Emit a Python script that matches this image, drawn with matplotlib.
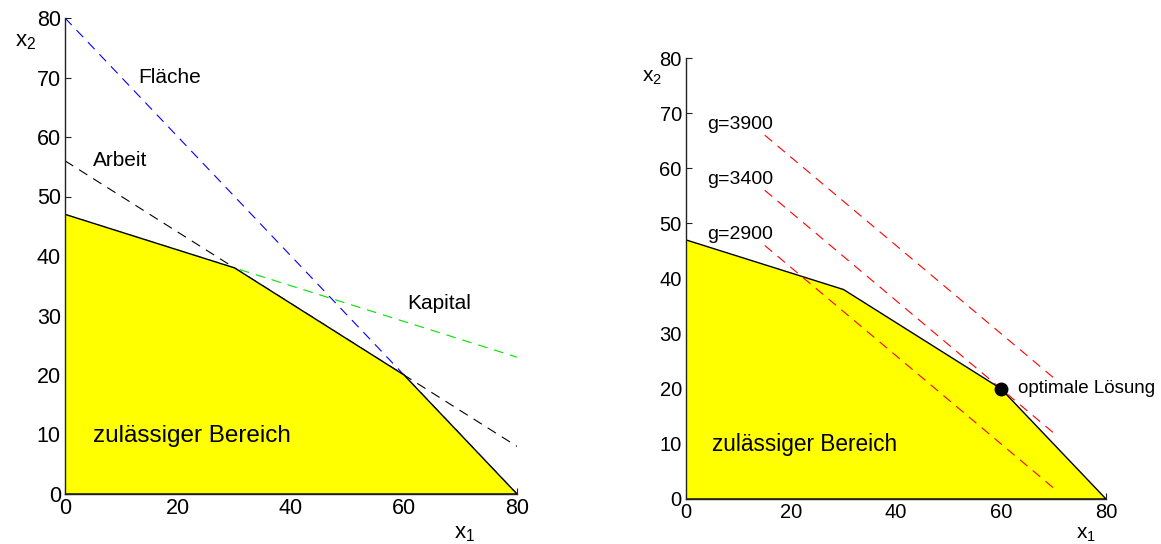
import numpy as np
import matplotlib
matplotlib.use("Agg")
import matplotlib.pyplot as plt

plt.rcParams['font.family'] = ['Liberation Sans', 'DejaVu Sans']
plt.rcParams['lines.scale_dashes'] = False

# Feasible region vertices
region_x = [0, 0, 30, 60, 80]
region_y = [0, 47, 38, 20, 0]

# Constraint lines (x1 range and x2 endpoints)
flaeche_x = [0, 80]
flaeche_y = [80, 0]
arbeit_x = [0, 80]
arbeit_y = [56, 8]
kapital_x = [0, 80]
kapital_y = [47, 23]

# Objective iso-lines g = 40*x1 + 50*x2
g_levels = [2900, 3400, 3900]
g_coef = (40, 50)
g_x = [15, 70]

# Optimal solution
opt_x, opt_y = 60, 20

ticks_x = [0, 20, 40, 60, 80]
ticks_y = [0, 10, 20, 30, 40, 50, 60, 70, 80]

fig = plt.figure(figsize=(11.61, 5.44), dpi=100)
ax1 = fig.add_axes([65 / 1161, 50 / 544, 452 / 1161, 476 / 544])
ax2 = fig.add_axes([686 / 1161, 45 / 544, 420 / 1161, 441 / 544])

dash = (7, 5)


def style_axes(ax, fs):
    ax.set_xlim(0, 80)
    ax.set_ylim(0, 80)
    ax.set_xticks(ticks_x)
    ax.set_yticks(ticks_y)
    for s in ('top', 'right'):
        ax.spines[s].set_visible(False)
    for s in ('left', 'bottom'):
        ax.spines[s].set_linewidth(1.0)
        ax.spines[s].set_color('#222222')
        ax.spines[s].set_zorder(5)
    ax.tick_params(direction='in', length=4, width=0.8, labelsize=fs, pad=3,
                   colors='#222222', labelcolor='black')
    ax.set_facecolor('white')


# Left panel: constraints
style_axes(ax1, 15.5)
ax1.plot(flaeche_x, flaeche_y, color='blue', lw=0.8, dashes=dash, zorder=2)
ax1.plot(arbeit_x, arbeit_y, color='black', lw=0.8, dashes=dash, zorder=2)
ax1.plot(kapital_x, kapital_y, color='#00e000', lw=0.8, dashes=dash, zorder=2)
ax1.fill(region_x, region_y, facecolor='yellow', edgecolor='black', lw=1.0, zorder=3)
ax1.text(13, 70, 'Fläche', fontsize=15, va='center', ha='left')
ax1.text(5, 56, 'Arbeit', fontsize=15, va='center', ha='left')
ax1.text(60.5, 32, 'Kapital', fontsize=15, va='center', ha='left')
ax1.text(5, 9.8, 'zulässiger Bereich', fontsize=17.5, va='center', ha='left', zorder=4)
ax1.text(-8.8, 76, '$\\mathregular{x_2}$', fontsize=16, va='center', ha='left')
ax1.text(68.8, -6.6, '$\\mathregular{x_1}$', fontsize=16, va='center', ha='left')

# Right panel: objective function
style_axes(ax2, 14.5)
ax2.fill(region_x, region_y, facecolor='yellow', edgecolor='black', lw=1.0, zorder=2)
for g, ty in zip(g_levels, [68 - 20, 68 - 10, 68]):
    gy = [(g - g_coef[0] * x) / g_coef[1] for x in g_x]
    ax2.plot(g_x, gy, color='red', lw=0.8, dashes=dash, zorder=3)
    ax2.text(4, ty, f'g={g}', fontsize=14, va='center', ha='left')
ax2.plot([opt_x], [opt_y], 'o', color='black', ms=9, zorder=4)
ax2.text(63.2, 20, 'optimale Lösung', fontsize=13.5, va='center', ha='left')
ax2.text(5, 9.8, 'zulässiger Bereich', fontsize=16.3, va='center', ha='left', zorder=4)
ax2.text(-8.3, 76.5, '$\\mathregular{x_2}$', fontsize=15, va='center', ha='left')
ax2.text(74.2, -6.5, '$\\mathregular{x_1}$', fontsize=15, va='center', ha='left')

fig.savefig('out.png', dpi=100)
